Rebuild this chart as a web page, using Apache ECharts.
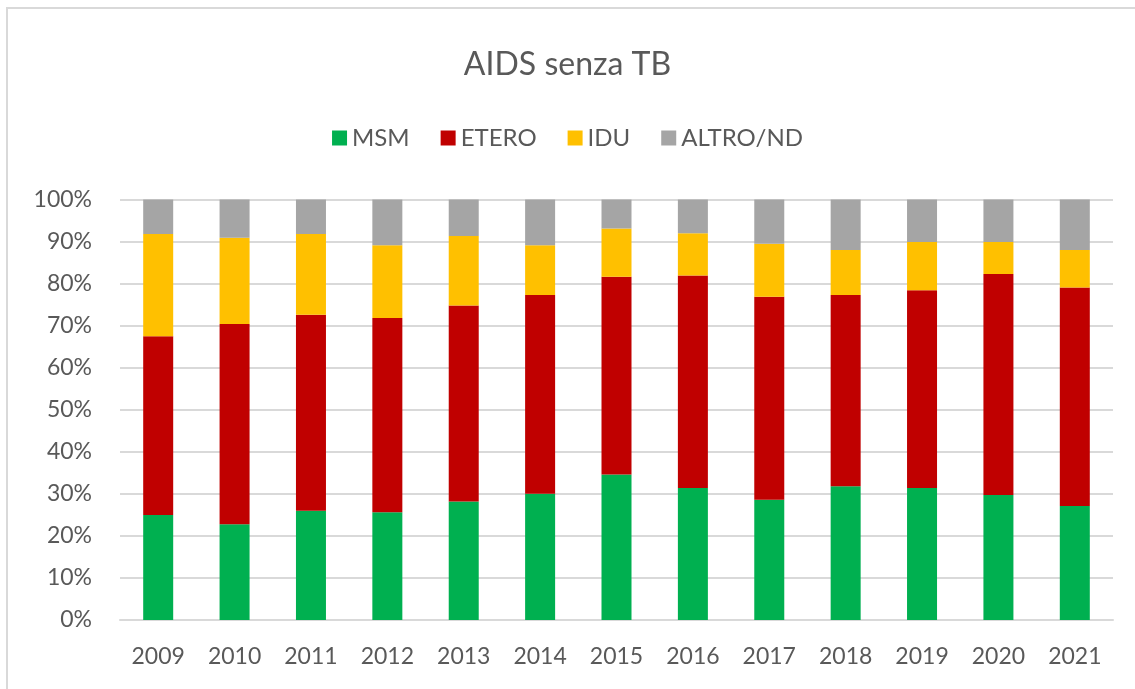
<!DOCTYPE html>
<html>
<head>
<meta charset="utf-8">
<script src="https://cdn.jsdelivr.net/npm/echarts@6/dist/echarts.min.js"></script>
<style>
  html, body { margin: 0; padding: 0; background: #fff; }
  #chart { width: 1135px; height: 689px; }
</style>
</head>
<body>
<div id="chart"></div>
<script>
const FONT = 'Lato, "Open Sans", sans-serif'
const TEXT = '#595959'

// anni
const years = ['2009', '2010', '2011', '2012', '2013', '2014', '2015', '2016', '2017', '2018', '2019', '2020', '2021']
// quote percentuali
const msm = [25.0, 22.8, 26.0, 25.6, 28.2, 30.0, 34.6, 31.4, 28.6, 31.8, 31.4, 29.7, 27.1]
const etero = [42.5, 47.6, 46.6, 46.2, 46.6, 47.3, 47.0, 50.5, 48.3, 45.5, 47.0, 52.6, 52.0]
const idu = [24.3, 20.5, 19.2, 17.3, 16.5, 11.8, 11.5, 10.1, 12.6, 10.7, 11.5, 7.6, 8.9]
const altro = [8.2, 9.1, 8.2, 10.9, 8.7, 10.9, 6.9, 8.0, 10.5, 12.0, 10.1, 10.1, 12.0]

const chart = echarts.init(document.getElementById('chart'))

const bar = (name, data, color) => ({
  name,
  type: 'bar',
  stack: 'tot',
  barWidth: 30,
  data,
  itemStyle: { color },
})

chart.setOption({
  backgroundColor: '#fff',
  animation: false,
  graphic: [{
    type: 'rect',
    shape: { x: 7, y: 8, width: 1300, height: 900 },
    style: { fill: 'none', stroke: '#d9d9d9', lineWidth: 2 },
  }],
  title: {
    text: 'AIDS senza TB',
    left: 'center',
    top: 44,
    textStyle: { color: TEXT, fontSize: 32, fontWeight: 'normal', fontFamily: FONT },
  },
  legend: {
    top: 121,
    left: 'center',
    icon: 'rect',
    itemWidth: 15,
    itemHeight: 15,
    itemGap: 31,
    textStyle: { color: TEXT, fontSize: 24, fontFamily: FONT },
    data: ['MSM', 'ETERO', 'IDU', 'ALTRO/ND'],
  },
  grid: { left: 120, right: 22, top: 199.5, bottom: 69, containLabel: false },
  xAxis: {
    type: 'category',
    data: years,
    axisLine: { show: true, lineStyle: { color: '#d9d9d9', width: 2 } },
    axisTick: { show: false },
    axisLabel: { color: TEXT, fontSize: 23, fontFamily: FONT, margin: 25 },
  },
  yAxis: {
    type: 'value',
    min: 0,
    max: 100,
    interval: 10,
    axisLine: { show: false },
    axisTick: { show: false },
    axisLabel: { color: TEXT, fontSize: 23, fontFamily: FONT, margin: 28, formatter: '{value}%' },
    splitLine: { lineStyle: { color: '#d9d9d9', width: 2 } },
  },
  series: [
    bar('MSM', msm, '#00B050'),
    bar('ETERO', etero, '#C00000'),
    bar('IDU', idu, '#FFC000'),
    bar('ALTRO/ND', altro, '#A5A5A5'),
  ],
})
</script>
</body>
</html>
